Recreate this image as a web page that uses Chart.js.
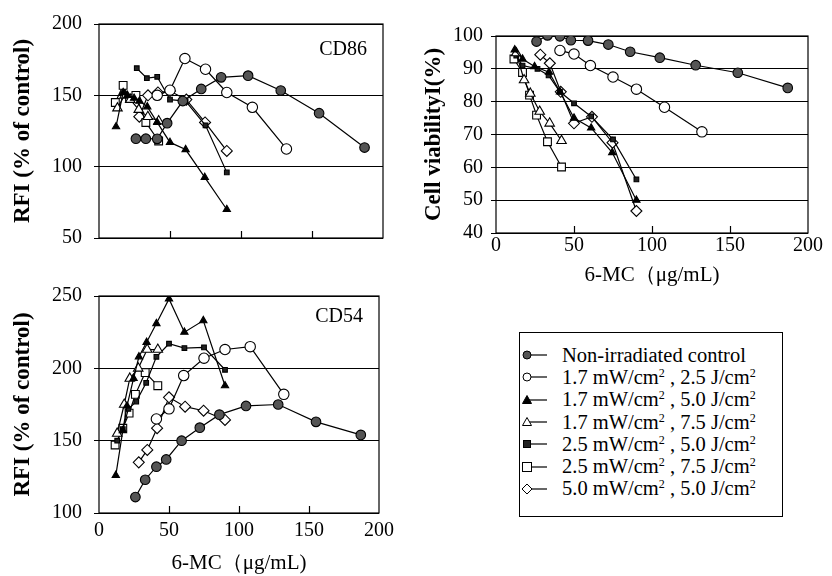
<!DOCTYPE html>
<html lang="en">
<head>
  <meta charset="UTF-8" />
  <title>6-MC: CD86, CD54 and cell viability</title>
  <script src="https://cdn.jsdelivr.net/npm/chart.js"></script>
  <style>
    body {
      margin: 0;
      width: 832px;
      height: 576px;
      position: relative;
      overflow: hidden;
      background: #fff;
      font-family: 'Liberation Serif', 'Times New Roman', serif;
      color: #000;
    }
    .panel { position: absolute; }
    #legend {
      position: absolute;
      left: 519px;
      top: 332px;
      width: 264px;
      height: 185px;
      border: 1px solid #000;
      box-sizing: border-box;
      padding-top: 11px;
    }
    .row {
      height: 22.3px;
      display: flex;
      align-items: center;
      font-size: 20.5px;
      white-space: nowrap;
    }
    .row svg { margin-right: 14px; flex: none; }
    .row sup { font-size: 12px; line-height: 0; vertical-align: 7px; }
  </style>
</head>
<body>
  <canvas id="cd86" class="panel" width="400" height="262" style="left:0;top:0"></canvas>
  <canvas id="viab" class="panel" width="432" height="300" style="left:400px;top:0"></canvas>
  <canvas id="cd54" class="panel" width="400" height="306" style="left:0;top:270px"></canvas>
  <div id="legend"></div>

  <script>
    // concentrations of 6-MC (ug/mL) for each condition
    const xCtrl = [26, 33, 41, 48, 59, 72, 86, 105, 128, 155, 187];
    const x17_25 = [41, 50, 60.5, 75, 90, 108, 132];
    const x17_50 = [12, 17, 20, 24.7, 28.5, 34, 41, 50, 61, 74.5, 90];
    const x17_75 = [13, 18, 22, 28, 34.4, 42];
    const x25_50 = [13, 17, 21, 26.6, 33.7, 41, 50, 61, 75, 90];
    const x25_75 = [11.5, 17, 21.5, 26, 33, 42];
    const x50_50 = [28.4, 34.5, 41.5, 50, 61.5, 74.7, 90];

    // CD86 RFI (% of control)
    const cd86Ctrl = [119.6, 119.6, 119.5, 130.5, 146, 154.5, 162.6, 163.8, 153.4, 137.5, 113.4];
    const cd86_17_25 = [150, 153.6, 175.8, 168.3, 152, 141.6, 112.4];
    const cd86_17_50 = [128, 152, 150, 148, 146, 142, 131, 117, 112, 92.5, 70];
    const cd86_17_75 = [141, 150, 147, 140, 135, 132];
    const cd86_25_50 = [null, null, null, 169, 162, 163, 147, 146, 129, 96];
    const cd86_25_75 = [145, 157, 148, 150, 131, 118];
    const cd86_50_50 = [135, 150, 152, 153, 147, 131, 111];

    // cell viability (%)
    const viaCtrl = [98.3, 100.2, 99.9, 98.7, 98.6, 97.4, 95.2, 93.4, 91.1, 88.8, 84.2];
    const via17_25 = [95.6, 94.5, 91, 87.5, 83.8, 78.3, 70.8];
    const via17_50 = [95.8, 93, null, 90.7, null, 89, 83, 75, 72, 64.5, 50];
    const via17_75 = [94.8, 86.6, 82.5, 77, 73.4, 68.1];
    const via25_50 = [94, 91, null, 90, 88, 83, 79.5, 75.5, 68.5, 56.3];
    const via25_75 = [93, 88.9, 82, 75.9, 67.8, 60.1];
    const via50_50 = [94.3, 91.7, 83, 73.4, 75.4, 67.5, 46.7];

    // CD54 RFI (% of control)
    const cd54Ctrl = [111, 123, 132, 137, 150, 159, 168, 174, 175, 163, 154];
    const cd54_17_25 = [165, 172, 195, 207, 213, 215, 182];
    const cd54_17_50 = [126, 157, 174, 193, 208, 218, 231, 248, 225, 233, 188];
    const cd54_17_75 = [155, 175, 193, 200, 213, 213];
    const cd54_25_50 = [150, 158, 172, 177, 190, 208, 217, 214, 214.5, 199];
    const cd54_25_75 = [147, 158.6, 169, 182, 197, 188];
    const cd54_50_50 = [135, 143.6, 158.6, 180, 173.5, 170.7, 164.3];

    const seriesNames = [
      'Non-irradiated control',
      '1.7 mW/cm², 2.5 J/cm²',
      '1.7 mW/cm², 5.0 J/cm²',
      '1.7 mW/cm², 7.5 J/cm²',
      '2.5 mW/cm², 5.0 J/cm²',
      '2.5 mW/cm², 7.5 J/cm²',
      '5.0 mW/cm², 5.0 J/cm²'
    ];
    const seriesX = [xCtrl, x17_25, x17_50, x17_75, x25_50, x25_75, x50_50];

    const SERIF = "'Liberation Serif', 'Times New Roman', serif";

    // marker look per series
    const markers = [
      { style: 'circle', r: 4.8, fill: '#555' },
      { style: 'circle', r: 5.2, fill: '#fff' },
      { style: 'triangle', r: 4.2, fill: '#000' },
      { style: 'triangle', r: 5.5, fill: '#fff' },
      { style: 'rect', r: 3.3, fill: '#222' },
      { style: 'rect', r: 5.5, fill: '#fff' },
      { style: 'rectRot', r: 5.5, fill: '#fff' }
    ];

    // box around the plot, inner x ticks and the panel name
    const framePlugin = {
      id: 'frame',
      beforeDatasetsDraw(chart, args, opts) {
        const { ctx, chartArea: a, scales: { x } } = chart;
        ctx.save();
        ctx.strokeStyle = '#000';
        ctx.lineWidth = 1.2;
        ctx.strokeRect(a.left, a.top, a.right - a.left, a.bottom - a.top);
        x.ticks.forEach(t => {
          if (t.value <= x.min || t.value >= x.max) return;
          const px = Math.round(x.getPixelForValue(t.value)) + 0.5;
          ctx.beginPath();
          ctx.moveTo(px, a.bottom);
          ctx.lineTo(px, a.bottom - 7);
          ctx.stroke();
        });
        if (opts.label) {
          ctx.fillStyle = '#000';
          ctx.font = '20px ' + SERIF;
          ctx.textAlign = 'right';
          ctx.textBaseline = 'middle';
          ctx.fillText(opts.label, a.right - 16, a.top + opts.labelY);
        }
        ctx.restore();
      }
    };
    Chart.register(framePlugin);

    function buildChart(id, ys, cfg) {
      const datasets = seriesNames.map((name, i) => ({
        label: name,
        data: seriesX[i].map((x, j) => ({ x: x, y: ys[i][j] })).filter(p => p.y !== null),
        showLine: true,
        borderColor: '#000',
        borderWidth: 1.2,
        pointStyle: markers[i].style,
        pointRadius: markers[i].r,
        pointBackgroundColor: markers[i].fill,
        pointBorderColor: '#000',
        pointBorderWidth: 1.1
      }));

      new Chart(document.getElementById(id), {
        type: 'scatter',
        data: { datasets: datasets },
        options: {
          responsive: false,
          animation: false,
          devicePixelRatio: 1,
          layout: { padding: { top: cfg.padTop, right: cfg.padRight, left: 0, bottom: 0 } },
          plugins: {
            legend: { display: false },
            tooltip: { enabled: false },
            frame: { label: cfg.label, labelY: cfg.labelY }
          },
          scales: {
            x: {
              type: 'linear',
              min: 0,
              max: 200,
              ticks: {
                stepSize: 50,
                display: cfg.xLabels,
                color: '#000',
                font: { family: SERIF, size: 20 },
                padding: cfg.xPad,
                maxRotation: 0
              },
              grid: { display: false, drawTicks: false },
              border: { display: false },
              title: {
                display: !!cfg.xTitle,
                text: cfg.xTitle,
                color: '#000',
                font: { family: SERIF, size: 21 },
                padding: { top: 0, bottom: cfg.xTitlePad }
              },
              afterFit: s => { s.height = cfg.xHeight; }
            },
            y: {
              min: cfg.ymin,
              max: cfg.ymax,
              ticks: {
                stepSize: cfg.ystep,
                color: '#000',
                font: { family: SERIF, size: 20 },
                padding: cfg.yPad
              },
              grid: { color: '#000', lineWidth: 1, tickLength: 5 },
              border: { display: false },
              title: {
                display: true,
                text: cfg.yTitle,
                color: '#000',
                font: { family: SERIF, size: 23, weight: 'bold' },
                padding: { top: cfg.yTitlePad, bottom: 0 }
              },
              afterFit: s => { s.width = cfg.yWidth; }
            }
          }
        }
      });
    }

    buildChart('cd86', [cd86Ctrl, cd86_17_25, cd86_17_50, cd86_17_75, cd86_25_50, cd86_25_75, cd86_50_50], {
      padTop: 22, padRight: 17, yWidth: 99, xHeight: 19,
      ymin: 50, ymax: 200, ystep: 50, yPad: 12, yTitlePad: 9,
      yTitle: 'RFI (% of control)', xLabels: false, xPad: 0, xTitle: '', xTitlePad: 0,
      label: 'CD86', labelY: 26
    });

    buildChart('viab', [viaCtrl, via17_25, via17_50, via17_75, via25_50, via25_75, via50_50], {
      padTop: 36, padRight: 24, yWidth: 96, xHeight: 67,
      ymin: 40, ymax: 100, ystep: 10, yPad: 8, yTitlePad: 20,
      yTitle: 'Cell viabilityI(%)', xLabels: true, xPad: 1, xTitle: '6-MC（μg/mL)', xTitlePad: 12,
      label: '', labelY: 0
    });

    buildChart('cd54', [cd54Ctrl, cd54_17_25, cd54_17_50, cd54_17_75, cd54_25_50, cd54_25_75, cd54_50_50], {
      padTop: 26, padRight: 17, yWidth: 99, xHeight: 63,
      ymin: 100, ymax: 250, ystep: 50, yPad: 12, yTitlePad: 9,
      yTitle: 'RFI (% of control)', xLabels: true, xPad: 6, xTitle: '6-MC（μg/mL)', xTitlePad: 0,
      label: 'CD54', labelY: 21
    });

    // legend: marker + short line, then the condition text
    function markerSvg(m) {
      const cx = 7, cy = 11;
      let shape = '';
      if (m.style === 'circle') {
        shape = `<circle cx="${cx}" cy="${cy}" r="4" fill="${m.fill}" stroke="#000"/>`;
      } else if (m.style === 'triangle') {
        shape = `<polygon points="${cx},${cy - 4.5} ${cx + 4.5},${cy + 3.5} ${cx - 4.5},${cy + 3.5}" fill="${m.fill}" stroke="#000"/>`;
      } else if (m.style === 'rect') {
        const h = m.fill === '#fff' ? 4.5 : 3.5;
        shape = `<rect x="${cx - h}" y="${cy - h}" width="${2 * h}" height="${2 * h}" fill="${m.fill}" stroke="#000"/>`;
      } else {
        shape = `<polygon points="${cx},${cy - 5} ${cx + 5},${cy} ${cx},${cy + 5} ${cx - 5},${cy}" fill="${m.fill}" stroke="#000"/>`;
      }
      return `<svg width="28" height="22"><line x1="${cx}" y1="${cy}" x2="27" y2="${cy}" stroke="#000" stroke-width="1.2"/>${shape}</svg>`;
    }

    const legendHtml = seriesNames.map((name, i) => {
      const txt = name.replace(/²/g, '<sup>2</sup>').replace(/, /g, ' , ');
      return `<div class="row">${markerSvg(markers[i])}<span>${txt}</span></div>`;
    }).join('');
    document.getElementById('legend').innerHTML = legendHtml;
  </script>
</body>
</html>
